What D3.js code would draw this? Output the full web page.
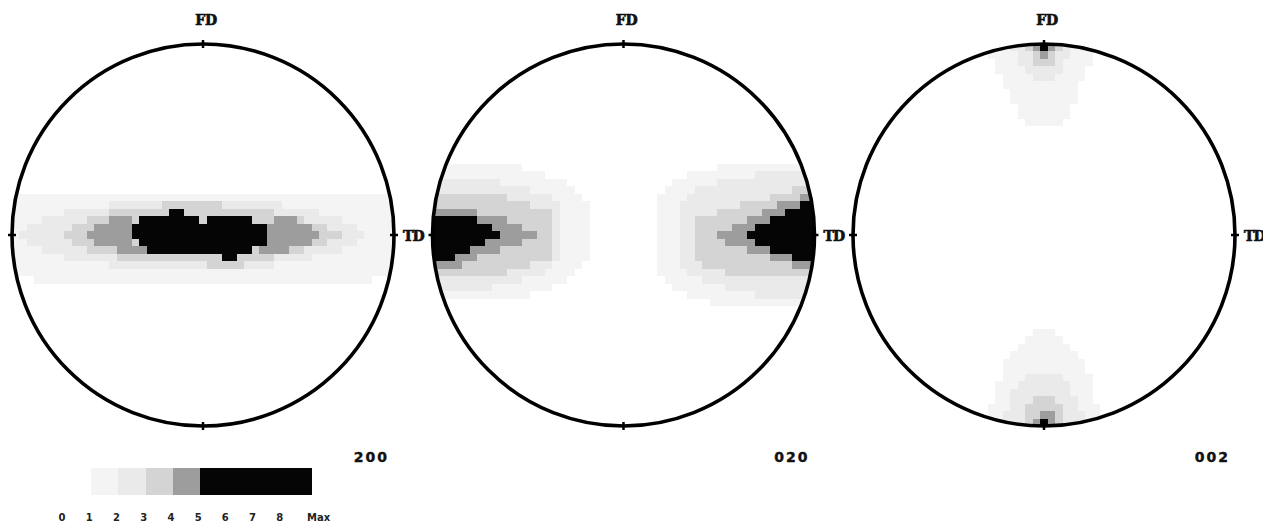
<!DOCTYPE html>
<html><head><meta charset="utf-8">
<script src="https://cdn.jsdelivr.net/npm/d3@7"></script>
<style>html,body{margin:0;padding:0;background:#fff;overflow:hidden}svg{display:block}</style>
</head><body><svg id="chart" width="1263" height="523"></svg>
<script>
// ---------------- data ----------------
const figureNames = ["200", "020", "002"];
const topLabel = "FD";
const rightLabel = "TD";
const levels = [1, 2, 3, 4, 5];
const levelColors = ["#f4f4f4", "#eaeaea", "#d4d4d4", "#9d9d9d", "#050505"];
const legendLabels = ["0", "1", "2", "3", "4", "5", "6", "7", "8", "Max"];
// legend segments: [fromTick, toTick, level]
const legendSegments = [[1, 2, 1], [2, 3, 2], [3, 4, 3], [4, 5, 4], [5, 9, 5]];

// intensity runs: [level, row, firstCol, lastCol] on a 51x51 grid (0 = centre)
const runs200 = [
  [1,-5,-25,25],[1,-4,-25,25],[1,-3,-25,25],[1,-2,-25,25],[1,-1,-25,25],[1,0,-25,25],
  [1,1,-25,25],[1,2,-25,25],[1,3,-25,25],[1,4,-25,25],[1,5,-25,25],[1,6,-22,22],
  [2,-4,-12,10],[2,-3,-18,15],[2,-2,-21,18],[2,-1,-23,20],[2,0,-24,21],[2,1,-23,20],[2,2,-21,18],[2,3,-18,14],[2,4,-12,9],
  [3,-4,-5,2],[3,-3,-12,9],[3,-2,-15,13],[3,-1,-17,16],[3,0,-18,18],[3,1,-17,16],[3,2,-15,13],[3,3,-11,9],[3,4,1,5],
  [4,-2,-12,-10],[4,-1,-14,-10],[4,0,-15,-10],[4,1,-14,-10],[4,2,-11,-8],
  [4,-2,10,12],[4,-1,9,14],[4,0,9,15],[4,1,9,14],[4,2,8,11],
  [5,-3,-4,-3],[5,-2,-8,-1],[5,-2,1,6],[5,-1,-9,8],[5,0,-9,8],[5,1,-8,8],[5,2,-7,6],[5,3,3,4]
];
const runs020 = [
  // left lobe
  [1,-9,-25,-14],[1,-8,-25,-11],[1,-7,-25,-8],[1,-6,-25,-7],[1,-5,-25,-6],[1,-4,-25,-5],[1,-3,-25,-5],[1,-2,-25,-5],
  [1,-1,-25,-5],[1,0,-25,-5],[1,1,-25,-5],[1,2,-25,-5],[1,3,-25,-5],[1,4,-25,-6],[1,5,-25,-7],[1,6,-25,-8],[1,7,-25,-10],[1,8,-25,-13],
  [2,-7,-25,-17],[2,-6,-25,-13],[2,-5,-25,-10],[2,-4,-25,-9],[2,-3,-25,-9],[2,-2,-25,-9],[2,-1,-25,-9],[2,0,-25,-9],
  [2,1,-25,-9],[2,2,-25,-9],[2,3,-25,-9],[2,4,-25,-10],[2,5,-25,-11],[2,6,-25,-14],[2,7,-25,-18],
  [3,-5,-25,-16],[3,-4,-25,-13],[3,-3,-25,-10],[3,-2,-25,-10],[3,-1,-25,-10],[3,0,-25,-10],[3,1,-25,-10],[3,2,-25,-10],[3,3,-25,-10],[3,4,-25,-13],[3,5,-25,-16],
  [4,-3,-25,-20],[4,-2,-25,-16],[4,-1,-25,-14],[4,0,-25,-12],[4,1,-25,-14],[4,2,-25,-17],[4,3,-25,-20],[4,4,-25,-22],
  [5,-2,-25,-20],[5,-1,-25,-18],[5,0,-25,-17],[5,1,-25,-19],[5,2,-25,-21],[5,3,-25,-23],
  // right lobe
  [1,-9,13,25],[1,-8,9,25],[1,-7,7,25],[1,-6,6,25],[1,-5,5,25],[1,-4,5,25],[1,-3,5,25],[1,-2,5,25],[1,-1,5,25],[1,0,5,25],
  [1,1,5,25],[1,2,5,25],[1,3,5,25],[1,4,5,25],[1,5,5,25],[1,6,6,25],[1,7,7,25],[1,8,9,25],[1,9,12,25],
  [2,-8,18,25],[2,-7,13,25],[2,-6,10,25],[2,-5,9,25],[2,-4,8,25],[2,-3,8,25],[2,-2,8,25],[2,-1,8,25],[2,0,8,25],
  [2,1,8,25],[2,2,8,25],[2,3,8,25],[2,4,8,25],[2,5,9,25],[2,6,11,25],[2,7,14,25],[2,8,18,25],
  [3,-6,23,25],[3,-5,20,25],[3,-4,16,25],[3,-3,13,25],[3,-2,10,25],[3,-1,10,25],[3,0,10,25],[3,1,10,25],[3,2,10,25],[3,3,10,25],[3,4,11,25],[3,5,14,25],
  [4,-5,24,25],[4,-4,21,25],[4,-3,19,25],[4,-2,17,25],[4,-1,15,25],[4,0,13,25],[4,1,14,25],[4,2,17,25],[4,3,20,25],[4,4,23,25],
  [5,-4,24,25],[5,-3,22,25],[5,-2,20,25],[5,-1,18,25],[5,0,17,25],[5,1,18,25],[5,2,20,25],[5,3,23,25]
];
const runs002 = [
  // top pole
  [1,-25,-7,6],[1,-24,-7,6],[1,-23,-6,6],[1,-22,-6,5],[1,-21,-5,5],[1,-20,-5,4],[1,-19,-4,4],[1,-18,-4,4],[1,-17,-3,3],[1,-16,-3,3],[1,-15,-2,2],
  [2,-25,-4,3],[2,-24,-3,3],[2,-23,-3,2],[2,-22,-2,2],[2,-21,-1,1],
  [3,-25,-2,2],[3,-24,-1,1],[3,-23,-1,1],
  [4,-25,-1,1],[4,-24,0,0],
  [5,-25,0,0],
  // bottom pole
  [1,13,-1,1],[1,14,-2,2],[1,15,-3,3],[1,16,-4,4],[1,17,-5,5],[1,18,-5,5],[1,19,-5,6],[1,20,-6,6],[1,21,-6,6],[1,22,-6,6],[1,23,-7,7],[1,24,-7,7],[1,25,-7,7],
  [2,19,-2,2],[2,20,-3,3],[2,21,-4,3],[2,22,-4,4],[2,23,-4,4],[2,24,-5,5],[2,25,-5,5],
  [3,22,-1,1],[3,23,-2,2],[3,24,-2,2],[3,25,-2,2],
  [4,24,0,1],[4,25,-1,1],
  [5,25,0,0]
];
const figureRuns = [runs200, runs020, runs002];

// ---------------- drawing ----------------
const svg = d3.select("#chart");
const R = 191, cy = 235;
const figX = d3.scalePoint().domain(figureNames).range([203, 1044]);
const color = d3.scaleOrdinal().domain(levels).range(levelColors);
const cell = d3.scaleLinear().domain([-25.5, 25.5]).range([-R, R]);
const serif = "'DejaVu Serif', 'Liberation Serif', serif";

figureNames.forEach((name, i) => {
  const cx = figX(name);
  const g = svg.append("g").attr("transform", `translate(${cx},${cy})`);
  const clipId = "clip" + i;
  g.append("clipPath").attr("id", clipId).append("circle").attr("r", R);
  const runs = figureRuns[i].slice().sort((a, b) => a[0] - b[0]);
  g.append("g").attr("clip-path", `url(#${clipId})`)
    .selectAll("rect").data(runs).join("rect")
    .attr("shape-rendering", "crispEdges")
    .attr("x", d => cell(d[2] - 0.5))
    .attr("width", d => cell(d[3] + 0.5) - cell(d[2] - 0.5))
    .attr("y", d => cell(d[1] - 0.5))
    .attr("height", d => cell(d[1] + 0.5) - cell(d[1] - 0.5))
    .attr("fill", d => color(d[0]));
  g.append("circle").attr("r", R).attr("fill", "none").attr("stroke", "#000").attr("stroke-width", 3.6);
  // cardinal ticks
  const ticks = [[0, -R, 0, 1], [0, R, 0, 1], [-R, 0, 1, 0], [R, 0, 1, 0]];
  g.selectAll("line.tick").data(ticks).join("line").attr("class", "tick")
    .attr("x1", d => d[0] - 4 * d[2]).attr("x2", d => d[0] + 4 * d[2])
    .attr("y1", d => d[1] - 4 * d[3]).attr("y2", d => d[1] + 4 * d[3])
    .attr("stroke", "#000").attr("stroke-width", 2.5);
  g.append("text").text(topLabel).attr("x", 3).attr("y", -R - 19)
    .attr("text-anchor", "middle").attr("font-family", serif)
    .attr("font-weight", "bold").attr("font-size", 14).attr("letter-spacing", -0.3)
    .attr("fill", "#111").attr("stroke", "#111").attr("stroke-width", 0.7);
  g.append("text").text(rightLabel).attr("x", R + 9).attr("y", 6)
    .attr("text-anchor", "start").attr("font-family", serif)
    .attr("font-weight", "bold").attr("font-size", 14).attr("letter-spacing", -0.8)
    .attr("fill", "#111").attr("stroke", "#111").attr("stroke-width", 0.7);
  g.append("text").text(name).attr("x", R - 5).attr("y", 227)
    .attr("text-anchor", "end").attr("font-family", "'DejaVu Sans', 'Liberation Sans', sans-serif")
    .attr("font-weight", "bold").attr("font-size", 14).attr("letter-spacing", 2)
    .attr("fill", "#111").attr("stroke", "#111").attr("stroke-width", 0.4);
});

// legend
const lx = d3.scaleLinear().domain([0, 9]).range([62, 307]);
const legend = svg.append("g");
legend.selectAll("rect").data(legendSegments).join("rect")
  .attr("shape-rendering", "crispEdges")
  .attr("x", d => lx(d[0]) + 2)
  .attr("width", d => (d[1] === 9 ? lx(d[1]) + 5 : lx(d[1]) + 2) - (lx(d[0]) + 2))
  .attr("y", 468).attr("height", 27)
  .attr("fill", d => color(d[2]));
legend.selectAll("text").data(legendLabels).join("text")
  .text(d => d)
  .attr("x", (d, i) => lx(i))
  .attr("y", 521)
  .attr("text-anchor", (d, i) => i === 9 ? "start" : "middle")
  .attr("font-family", "'DejaVu Sans', 'Liberation Sans', sans-serif")
  .attr("font-weight", "bold").attr("font-size", 10).attr("fill", "#222");
</script></body></html>
